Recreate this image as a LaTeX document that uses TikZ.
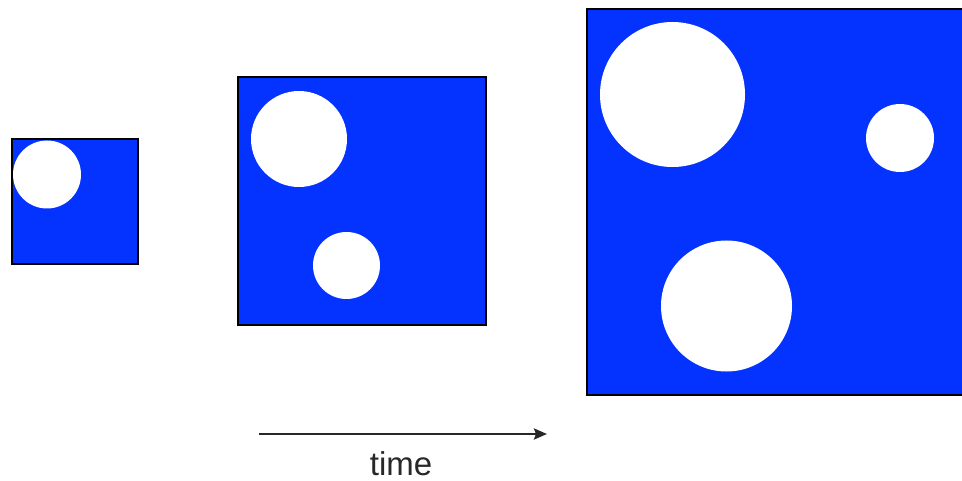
\documentclass[tikz,border=0pt]{standalone}
\usepackage{fontspec}
\setmainfont{Liberation Sans}
\usepackage{xcolor}
\usetikzlibrary{arrows.meta}
\definecolor{cellblue}{RGB}{4,51,255}
\definecolor{inkgray}{RGB}{40,40,40}

\begin{document}
\begin{tikzpicture}[
    x=1pt, y=-1pt,
    frame/.style={draw=black, line width=2pt, fill=cellblue},
    hole/.style={fill=white},
    >={Stealth[length=13pt, width=11pt, inset=2pt]}
]
\clip (0,0) rectangle (962,481);

% small square
\draw[frame] (12,139) rectangle (138,264);
\fill[hole] (47,174.5) circle (34);

% medium square
\draw[frame] (238,77) rectangle (486,325);
\fill[hole] (299,139) circle (48);
\fill[hole] (346.5,265.5) circle (33.5);

% large square, runs off the right edge
\draw[frame] (587,9) rectangle (975,395);
\fill[hole] (672.5,94.5) circle (72.5);
\fill[hole] (900,138) circle (34);
\fill[hole] (726.5,306) circle (65.5);

\coordinate (start) at (259,434);
\coordinate (stop) at (547,434);
\draw[->, inkgray, line width=2.5pt] (start) -- (stop);
\node[inkgray, font=\fontsize{33}{38}\selectfont, anchor=base, inner sep=0pt] (time) at (401,475) {time};
\end{tikzpicture}
\end{document}
